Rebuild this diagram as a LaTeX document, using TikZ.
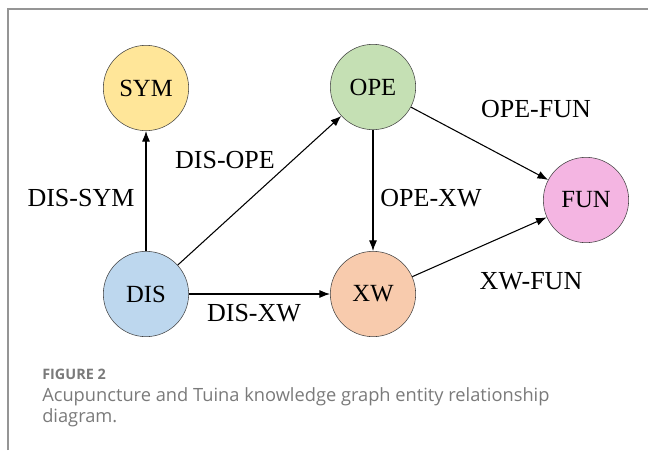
\documentclass[tikz,border=0pt]{standalone}
\usepackage{fontspec}
\setmainfont{Liberation Serif}
\newfontfamily\capfont{Open Sans}
\usetikzlibrary{arrows.meta}
\definecolor{symcol}{HTML}{FFE699}
\definecolor{opecol}{HTML}{C5E0B4}
\definecolor{funcol}{HTML}{F4B5E2}
\definecolor{discol}{HTML}{BDD7EE}
\definecolor{xwcol}{HTML}{F8CBAD}
\definecolor{capgray}{HTML}{7A7A7A}
\tikzset{
  ent/.style={draw=black!75, circle, minimum size=64pt, inner sep=0pt, font=\fontsize{18.5}{18.5}\selectfont},
  rel/.style={font=\fontsize{19.5}{19.5}\selectfont},
  link/.style={-{Latex[length=8pt,width=6pt]}, line width=0.8pt}
}
\begin{document}
\begin{tikzpicture}[x=0.75pt,y=-0.75pt]
\useasboundingbox (0,0) rectangle (648,450);
\draw[capgray!80, line width=1.2pt] (8,450) -- (8,9) -- (648,9);

\node[ent, fill=symcol] (sym) at (146,88) {SYM};
\node[ent, fill=opecol] (ope) at (373,87) {OPE};
\node[ent, fill=funcol] (fun) at (586,200) {FUN};
\node[ent, fill=discol] (dis) at (146,294) {DIS};
\node[ent, fill=xwcol] (xw) at (373,294) {XW};

\draw[link] (dis) -- (sym);
\draw[link] (dis) -- (ope);
\draw[link] (dis) -- (xw);
\draw[link] (ope) -- (xw);
\draw[link] (ope) -- (fun);
\draw[link] (xw) -- (fun);

\node[rel] (disym) at (81,198) {DIS-SYM};
\node[rel] (disope) at (225,160) {DIS-OPE};
\node[rel] (disxw) at (254,313) {DIS-XW};
\node[rel] (opexw) at (431,198) {OPE-XW};
\node[rel] (opefun) at (536,109) {OPE-FUN};
\node[rel] (xwfun) at (531,281) {XW-FUN};

\node[anchor=base west, inner sep=0pt, text=capgray, font=\capfont\bfseries\fontsize{10.8}{12}\selectfont] (fig) at (42,379) {FIGURE 2};
\node[anchor=base west, inner sep=0pt, align=left, text=capgray, font=\capfont\fontsize{13.7}{15.75}\selectfont] (cap) at (42,422) {Acupuncture and Tuina knowledge graph entity relationship\\diagram.};
\end{tikzpicture}
\end{document}
